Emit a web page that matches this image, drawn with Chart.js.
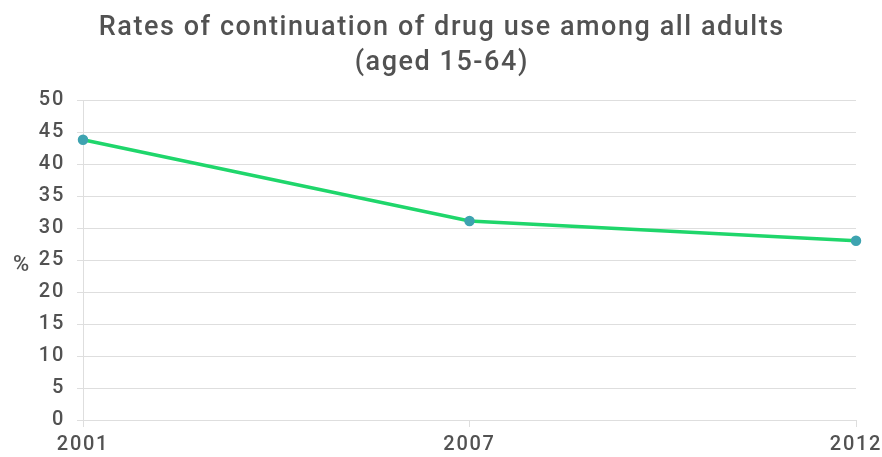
<!DOCTYPE html>
<html>
<head>
<meta charset="utf-8">
<script src="https://cdn.jsdelivr.net/npm/chart.js@4/dist/chart.umd.min.js"></script>
<style>
  html, body { margin: 0; padding: 0; background: #ffffff; }
  #wrap { width: 882px; height: 457px; }
</style>
</head>
<body>
<div id="wrap"><canvas id="c" width="882" height="457"></canvas></div>
<script>
// Survey years and continuation rates (%)
const years = ['2001', '2007', '2012'];
const rates = [43.8, 31.1, 28.0];
const titleLines = ['Rates of continuation of drug use among all adults', '(aged 15-64)'];
const yAxisLabel = '%';

const textColor = '#525252';
const gridColor = '#dedede';
const fontFamily = 'Roboto, "Liberation Sans", sans-serif';
const tracking = '1.7px';
const titleTracking = 1.55;

// Slightly open letter spacing for all chart text
const textTracking = {
  id: 'textTracking',
  beforeLayout(chart) { chart.ctx.letterSpacing = tracking; },
  beforeDraw(chart) { chart.ctx.letterSpacing = tracking; }
};

// Two-line heading centred over the canvas, plus the unrotated "%" axis label
const headings = {
  id: 'headings',
  afterDraw(chart) {
    const { ctx, chartArea, width } = chart;
    ctx.save();
    ctx.letterSpacing = titleTracking + 'px';
    ctx.fillStyle = textColor;
    ctx.textBaseline = 'middle';
    ctx.textAlign = 'left';
    ctx.font = '500 27px ' + fontFamily;
    titleLines.forEach((line, i) => {
      const w = ctx.measureText(line).width - titleTracking;
      ctx.fillText(line, (width - w) / 2, 28 + i * 35);
    });
    ctx.letterSpacing = '0px';
    ctx.font = '500 22px ' + fontFamily;
    const pw = ctx.measureText(yAxisLabel).width;
    ctx.fillText(yAxisLabel, 21 - pw / 2, (chartArea.top + chartArea.bottom) / 2 + 5);
    ctx.restore();
  }
};

new Chart(document.getElementById('c'), {
  type: 'line',
  data: {
    labels: years,
    datasets: [{
      data: rates,
      borderColor: '#1fd66b',
      borderWidth: 3.5,
      backgroundColor: '#3ea3b0',
      pointBackgroundColor: '#3ea3b0',
      pointBorderColor: '#3ea3b0',
      pointRadius: 3.5,
      tension: 0,
      fill: false
    }]
  },
  options: {
    responsive: false,
    animation: false,
    layout: { padding: { left: 0, right: 26, top: 100, bottom: 0 } },
    plugins: {
      legend: { display: false },
      tooltip: { enabled: false },
      title: { display: false }
    },
    scales: {
      x: {
        type: 'category',
        offset: false,
        grid: {
          display: true,
          drawOnChartArea: false,
          drawTicks: true,
          tickLength: 7,
          color: gridColor
        },
        border: { display: false },
        ticks: {
          color: textColor,
          font: { family: fontFamily, size: 20, weight: 500 },
          padding: 6,
          maxRotation: 0
        },
        afterFit(scale) {
          scale.height = 37;
          scale.paddingLeft = 0;
          scale.paddingRight = 0;
        }
      },
      y: {
        min: 0,
        max: 50,
        ticks: {
          stepSize: 5,
          color: textColor,
          font: { family: fontFamily, size: 20, weight: 500 },
          padding: 12
        },
        grid: {
          color: gridColor,
          tickLength: 6
        },
        border: { display: true, color: gridColor },
        afterFit(scale) {
          scale.width = 83;
          scale.paddingTop = 0;
          scale.paddingBottom = 0;
        }
      }
    }
  },
  plugins: [textTracking, headings]
});
</script>
</body>
</html>
